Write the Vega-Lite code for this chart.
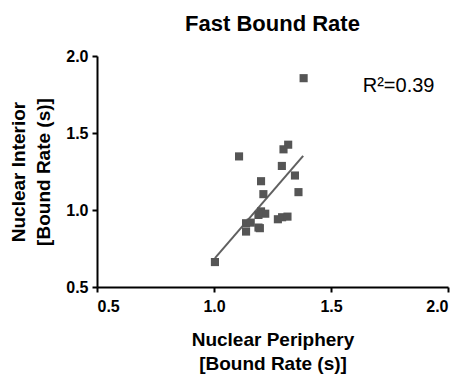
{
  "$schema": "https://vega.github.io/schema/vega-lite/v6.json",
  "width": 351,
  "height": 231,
  "padding": {"left": 9, "top": 13, "right": 5, "bottom": 5},
  "background": "white",
  "config": {
    "view": {"stroke": null},
    "font": "Liberation Sans",
    "axis": {
      "grid": false,
      "domainColor": "black",
      "domainWidth": 2,
      "tickColor": "black",
      "tickWidth": 2,
      "tickSize": 5,
      "labelFont": "Liberation Sans",
      "labelFontSize": 16,
      "labelFontWeight": "bold",
      "labelColor": "black",
      "titleFont": "Liberation Sans",
      "titleFontSize": 19,
      "titleFontWeight": "bold",
      "titleColor": "black",
      "titleLineHeight": 24
    }
  },
  "title": {
    "text": "Fast Bound Rate",
    "font": "Liberation Sans",
    "fontSize": 22,
    "fontWeight": "bold",
    "color": "black",
    "anchor": "middle",
    "offset": 12
  },
  "datasets": {
    "points": [
      {"x": 1.383, "y": 1.856},
      {"x": 1.107, "y": 1.348},
      {"x": 1.317, "y": 1.424},
      {"x": 1.297, "y": 1.394},
      {"x": 1.290, "y": 1.286},
      {"x": 1.346, "y": 1.224},
      {"x": 1.361, "y": 1.116},
      {"x": 1.201, "y": 1.187},
      {"x": 1.211, "y": 1.103},
      {"x": 1.201, "y": 0.991},
      {"x": 1.219, "y": 0.976},
      {"x": 1.190, "y": 0.968},
      {"x": 1.273, "y": 0.940},
      {"x": 1.291, "y": 0.953},
      {"x": 1.314, "y": 0.957},
      {"x": 1.137, "y": 0.914},
      {"x": 1.157, "y": 0.918},
      {"x": 1.137, "y": 0.860},
      {"x": 1.190, "y": 0.886},
      {"x": 1.196, "y": 0.882},
      {"x": 1.004, "y": 0.662}
    ],
    "fit": [
      {"x": 1.004, "y": 0.688},
      {"x": 1.381, "y": 1.351}
    ],
    "label": [
      {"x": 1.789, "y": 1.806, "t": "R²=0.39"}
    ]
  },
  "layer": [
    {
      "data": {"name": "fit"},
      "mark": {"type": "line", "color": "#606060", "strokeWidth": 2},
      "encoding": {
        "x": {"field": "x", "type": "quantitative"},
        "y": {"field": "y", "type": "quantitative"}
      }
    },
    {
      "data": {"name": "points"},
      "mark": {"type": "square", "color": "#555555", "opacity": 1, "size": 66, "filled": true},
      "encoding": {
        "x": {
          "field": "x", "type": "quantitative",
          "scale": {"domain": [0.5, 2.0], "nice": false, "zero": false},
          "axis": {"values": [0.5, 1.0, 1.5, 2.0], "format": ".1f", "title": ["Nuclear Periphery", "[Bound Rate (s)]"], "labelPadding": 6, "titlePadding": 16}
        },
        "y": {
          "field": "y", "type": "quantitative",
          "scale": {"domain": [0.5, 2.0], "nice": false, "zero": false},
          "axis": {"values": [0.5, 1.0, 1.5, 2.0], "format": ".1f", "title": ["Nuclear Interior", "[Bound Rate (s)]"], "titleLineHeight": 25, "labelPadding": 4, "titlePadding": 12}
        }
      }
    },
    {
      "data": {"name": "label"},
      "mark": {"type": "text", "fontSize": 20, "font": "Liberation Sans", "color": "black", "align": "center", "baseline": "middle"},
      "encoding": {
        "x": {"field": "x", "type": "quantitative"},
        "y": {"field": "y", "type": "quantitative"},
        "text": {"field": "t"}
      }
    }
  ]
}
